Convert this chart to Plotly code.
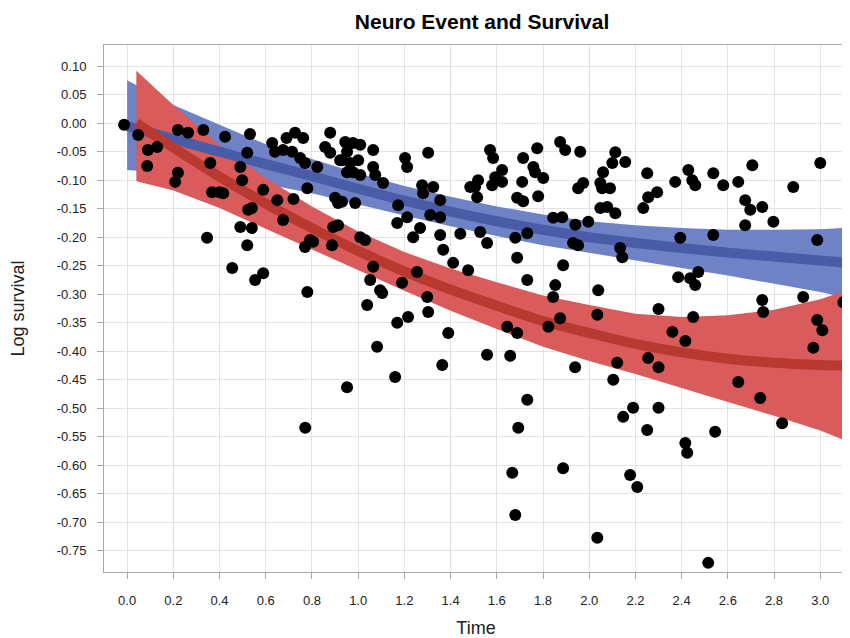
import plotly.graph_objects as go

# ---------------- data ----------------
time_pts = [
    -0.013, 0.048, 0.09, 0.13, 0.087, 0.22, 0.208, 0.22, 0.264, 0.33,
    0.36, 0.368, 0.40, 0.346, 0.424, 0.532, 0.628, 0.64, 0.69, 0.727,
    0.762, 0.675, 0.714, 0.749, 0.77, 0.879, 0.857, 0.879, 0.922, 0.823,
    0.52, 0.49, 0.498, 0.416, 0.589, 0.65, 0.72, 0.524, 0.54, 0.78,
    0.9, 0.913, 0.49, 0.54, 0.52, 0.455, 0.554, 0.589, 0.892, 0.913,
    0.792, 0.77, 0.78, 0.675, 0.944, 0.978, 1.009, 0.952, 0.93, 0.965,
    1.0, 0.978, 0.952, 1.009, 1.065, 1.065, 1.074, 1.108, 1.203, 1.212,
    1.303, 1.277, 1.325, 1.281, 1.355, 1.312, 1.355, 0.93, 0.987, 1.173,
    1.212, 1.169, 1.268, 1.238, 1.355, 1.442, 1.368, 1.411, 1.476, 1.009,
    1.03, 1.065, 1.052, 1.19, 1.255, 1.095, 1.485, 1.571, 1.584, 1.775,
    1.874, 1.896, 1.961, 1.714, 1.623, 1.593, 1.758, 1.766, 1.801, 1.519,
    1.506, 1.515, 1.58, 1.623, 1.71, 1.688, 1.714, 1.779, 1.952, 1.974,
    1.844, 1.883, 1.996, 1.93, 1.952, 1.94, 1.528, 1.558, 1.68, 1.732,
    1.688, 1.887, 1.732, 1.853, 2.113, 2.1, 2.156, 2.06, 2.048, 2.056,
    2.09, 2.048, 2.078, 2.113, 2.251, 2.294, 2.255, 2.234, 2.372, 2.429,
    2.446, 2.459, 2.537, 2.394, 2.537, 2.134, 2.143, 2.472, 2.385, 2.437,
    2.459, 2.706, 2.58, 2.645, 2.675, 2.697, 2.675, 2.749, 2.797, 2.883,
    3.0, 2.987, 3.121, 2.926, 3.1, 2.987, 3.009, 2.749, 2.753, 2.45,
    2.3, 2.36, 2.416, 2.039, 2.035, 1.844, 2.97, 1.645, 1.688, 1.823,
    1.874, 1.558, 1.658, 1.939, 2.121, 2.104, 2.255, 2.3, 2.645, 2.74,
    2.835, 1.732, 1.693, 1.667, 1.68, 1.887, 2.035, 2.147, 2.19, 2.3,
    2.251, 2.177, 2.208, 2.416, 2.424, 2.545, 2.515, 0.771, 0.805, 0.887,
    1.104, 1.039, 1.169, 1.216, 1.082, 0.952, 1.16, 1.299, 1.303, 1.364,
    1.39,
]
log_survival_pts = [
    -0.003, -0.021, -0.047, -0.042, -0.075, -0.087, -0.103, -0.012, -0.017, -0.012,
    -0.07, -0.121, -0.121, -0.201, -0.024, -0.019, -0.035, -0.05, -0.026, -0.017,
    -0.026, -0.047, -0.05, -0.061, -0.07, -0.017, -0.042, -0.052, -0.065, -0.077,
    -0.052, -0.077, -0.1, -0.123, -0.117, -0.135, -0.133, -0.152, -0.149, -0.114,
    -0.131, -0.14, -0.182, -0.184, -0.214, -0.254, -0.275, -0.263, -0.182, -0.179,
    -0.205, -0.217, -0.296, -0.17, -0.033, -0.035, -0.038, -0.05, -0.065, -0.07,
    -0.065, -0.086, -0.086, -0.091, -0.047, -0.077, -0.091, -0.105, -0.061, -0.077,
    -0.052, -0.109, -0.112, -0.123, -0.135, -0.161, -0.165, -0.138, -0.14, -0.144,
    -0.165, -0.175, -0.184, -0.2, -0.196, -0.194, -0.222, -0.245, -0.258, -0.2,
    -0.205, -0.252, -0.275, -0.28, -0.261, -0.293, -0.112, -0.047, -0.061, -0.044,
    -0.033, -0.047, -0.05, -0.061, -0.082, -0.095, -0.077, -0.086, -0.096, -0.1,
    -0.112, -0.13, -0.109, -0.103, -0.103, -0.131, -0.137, -0.128, -0.114, -0.105,
    -0.166, -0.165, -0.173, -0.21, -0.214, -0.178, -0.191, -0.21, -0.201, -0.193,
    -0.236, -0.249, -0.275, -0.284, -0.051, -0.07, -0.068, -0.086, -0.105, -0.114,
    -0.114, -0.149, -0.147, -0.158, -0.088, -0.121, -0.13, -0.149, -0.103, -0.082,
    -0.1, -0.109, -0.088, -0.201, -0.196, -0.219, -0.235, -0.261, -0.27, -0.272,
    -0.284, -0.074, -0.109, -0.103, -0.135, -0.152, -0.179, -0.147, -0.173, -0.112,
    -0.07, -0.205, -0.208, -0.305, -0.314, -0.345, -0.363, -0.31, -0.331, -0.34,
    -0.326, -0.366, -0.382, -0.293, -0.336, -0.305, -0.394, -0.357, -0.368, -0.357,
    -0.342, -0.406, -0.408, -0.428, -0.42, -0.45, -0.412, -0.428, -0.454, -0.482,
    -0.526, -0.485, -0.534, -0.613, -0.687, -0.605, -0.727, -0.515, -0.499, -0.499,
    -0.538, -0.617, -0.638, -0.561, -0.578, -0.541, -0.771, -0.534, -0.208, -0.214,
    -0.298, -0.319, -0.35, -0.34, -0.392, -0.463, -0.445, -0.305, -0.331, -0.424,
    -0.368,
]

blue_time = [0.0, 0.2, 0.4, 0.6, 0.8, 1.0, 1.2, 1.4, 1.6, 1.8, 2.0, 2.2, 2.4, 2.6, 2.8, 3.0, 3.12]
blue_fit = [-0.005, -0.028, -0.05, -0.072, -0.093, -0.115, -0.136, -0.155, -0.172,
            -0.187, -0.2, -0.21, -0.219, -0.227, -0.234, -0.241, -0.245]
blue_upper = [0.075, 0.032, -0.003, -0.037, -0.063, -0.088, -0.11, -0.129, -0.146,
              -0.16, -0.172, -0.179, -0.184, -0.187, -0.187, -0.186, -0.183]
blue_lower = [-0.082, -0.088, -0.097, -0.107, -0.123, -0.142, -0.162, -0.181, -0.198,
              -0.214, -0.228, -0.241, -0.254, -0.267, -0.281, -0.296, -0.307]

red_time = [0.04, 0.2, 0.4, 0.6, 0.8, 1.0, 1.2, 1.4, 1.6, 1.8, 2.0, 2.2, 2.4, 2.6, 2.8, 3.0, 3.1]
red_fit = [0.0, -0.043, -0.094, -0.141, -0.184, -0.224, -0.26, -0.292, -0.32,
           -0.347, -0.368, -0.387, -0.402, -0.413, -0.42, -0.424, -0.425]
red_upper = [0.092, 0.032, -0.039, -0.096, -0.146, -0.19, -0.226, -0.255, -0.279,
             -0.302, -0.319, -0.334, -0.34, -0.337, -0.327, -0.309, -0.295]
red_lower = [-0.102, -0.118, -0.149, -0.186, -0.222, -0.258, -0.294, -0.329, -0.361,
             -0.392, -0.417, -0.44, -0.464, -0.489, -0.513, -0.539, -0.555]

x_ticks = [0.0, 0.2, 0.4, 0.6, 0.8, 1.0, 1.2, 1.4, 1.6, 1.8, 2.0, 2.2, 2.4, 2.6, 2.8, 3.0]
y_ticks = [0.10, 0.05, 0.00, -0.05, -0.10, -0.15, -0.20, -0.25, -0.30, -0.35,
           -0.40, -0.45, -0.50, -0.55, -0.60, -0.65, -0.70, -0.75]

# ---------------- styles ----------------
BLUE_BAND = "#6f82c6"
BLUE_LINE = "#4a5ca8"
RED_BAND = "#d95b5b"
RED_LINE = "#b9382f"
FONT = "Liberation Sans, Arial, sans-serif"

fig = go.Figure()

fig.add_trace(go.Scatter(
    x=blue_time + blue_time[::-1], y=blue_upper + blue_lower[::-1],
    fill="toself", fillcolor=BLUE_BAND, line=dict(width=0), mode="lines",
    hoverinfo="skip", showlegend=False))
fig.add_trace(go.Scatter(
    x=red_time + red_time[::-1], y=red_upper + red_lower[::-1],
    fill="toself", fillcolor=RED_BAND, line=dict(width=0), mode="lines",
    hoverinfo="skip", showlegend=False))
fig.add_trace(go.Scatter(
    x=blue_time, y=blue_fit, mode="lines",
    line=dict(color=BLUE_LINE, width=10, shape="spline"), showlegend=False))
fig.add_trace(go.Scatter(
    x=red_time, y=red_fit, mode="lines",
    line=dict(color=RED_LINE, width=10, shape="spline"), showlegend=False))
fig.add_trace(go.Scatter(
    x=time_pts, y=log_survival_pts, mode="markers",
    marker=dict(color="black", size=12, line=dict(width=0)), showlegend=False))

axis_common = dict(
    showgrid=True, gridcolor="#e3e3e3", gridwidth=1,
    showline=True, linecolor="#a8a8a8", linewidth=1, mirror=True,
    ticks="outside", ticklen=6, tickcolor="#a8a8a8",
    zeroline=False, automargin=False,
    tickfont=dict(family=FONT, size=13, color="#222"),
)

fig.update_xaxes(
    range=[-0.1, 3.12], tickvals=x_ticks, ticktext=[f"{v:.1f}" for v in x_ticks],
    title=dict(text="Time", font=dict(family=FONT, size=18, color="#222"), standoff=14),
    ticklabelstandoff=10, **axis_common)
fig.update_yaxes(
    range=[-0.787, 0.137], tickvals=y_ticks, ticktext=[f"{v:.2f}" for v in y_ticks],
    title=dict(text="Log survival", font=dict(family=FONT, size=18, color="#222"), standoff=28),
    ticklabelstandoff=8, **axis_common)

# page body adds an 8 px margin, so the figure is 8 px smaller on each side
fig.update_layout(
    width=842, height=630,
    margin=dict(l=96, r=2, t=37, b=66),
    paper_bgcolor="white", plot_bgcolor="white",
    title=dict(text="<b>Neuro Event and Survival</b>", x=0.563, xanchor="center",
               y=0.978, yanchor="middle",
               font=dict(family=FONT, size=21, color="black")),
    showlegend=False,
)

fig.write_html("out.html")
